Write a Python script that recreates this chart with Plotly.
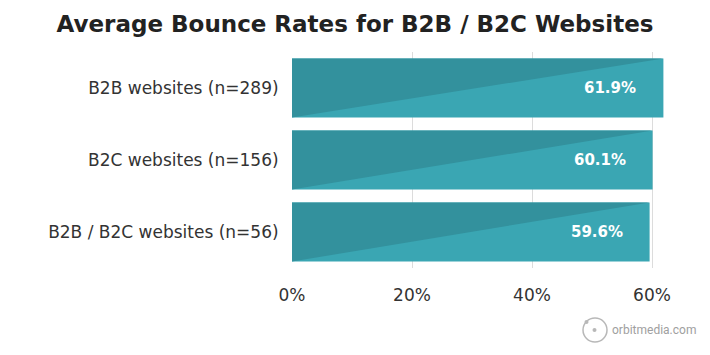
import plotly.graph_objects as go

categories = ["B2B websites (n=289)", "B2C websites (n=156)", "B2B / B2C websites (n=56)"]
values = [61.9, 60.1, 59.6]
labels = ["61.9%", "60.1%", "59.6%"]
x_ticks = [0, 20, 40, 60]
x_tick_labels = ["0%", "20%", "40%", "60%"]

LIGHT = "#3aa6b3"
DARK = "#33919d"
BAR_W = 0.82
FONT = "DejaVu Sans"

# the page body adds an 8px offset, so the figure is laid out in 702x347
W, H = 702, 347
L, R, T, B = 284, 46, 44, 87
PW, PH = W - L - R, H - T - B


def px(x):
    return (x - 8 - L) / PW


def py(y):
    return (H - B - (y - 8)) / PH


fig = go.Figure()
pos = list(range(len(categories)))

fig.add_trace(go.Bar(
    x=values, y=pos, orientation="h", width=BAR_W,
    marker=dict(color=LIGHT, line=dict(width=0)),
    hoverinfo="skip", showlegend=False,
))

# darker upper-left triangle of each bar, derived from the values
for i, v in zip(pos, values):
    top = i - BAR_W / 2
    bot = i + BAR_W / 2
    fig.add_trace(go.Scatter(
        x=[0, 0, v, 0], y=[top, bot, top, top],
        mode="lines", fill="toself", fillcolor=DARK,
        line=dict(width=0), hoverinfo="skip", showlegend=False,
    ))

for i, v, t in zip(pos, values, labels):
    fig.add_annotation(
        x=v, y=i, text="<b>" + t + "</b>", showarrow=False,
        xanchor="right", xshift=-25,
        font=dict(family=FONT, size=15, color="white"),
    )

# watermark
fig.add_shape(type="circle", xref="paper", yref="paper",
              x0=px(583), x1=px(607), y0=py(342), y1=py(318),
              line=dict(color="#b8b8b8", width=1.5), fillcolor="rgba(0,0,0,0)")
fig.add_shape(type="circle", xref="paper", yref="paper",
              x0=px(592.5), x1=px(596.5), y0=py(332), y1=py(328),
              line=dict(width=0), fillcolor="#b8b8b8")
fig.add_shape(type="circle", xref="paper", yref="paper",
              x0=px(584.5), x1=px(588.5), y0=py(324), y1=py(320),
              line=dict(width=0), fillcolor="#b8b8b8")
fig.add_annotation(
    xref="paper", yref="paper", x=px(610), y=py(330),
    xanchor="left", yanchor="middle",
    text="orbitmedia.com", showarrow=False,
    font=dict(family="Roboto", size=12, color="#a0a0a0"),
)

fig.update_layout(
    width=W, height=H,
    margin=dict(l=L, r=R, t=T, b=B, autoexpand=False),
    paper_bgcolor="white", plot_bgcolor="white",
    font=dict(family=FONT, color="#333333"),
    title=dict(text="<b>Average Bounce Rates for B2B / B2C Websites</b>",
               x=(355 - 8) / W, xref="container", xanchor="center",
               y=1 - (24 - 8) / H, yref="container", yanchor="middle",
               font=dict(family=FONT, size=23, color="#222222")),
    xaxis=dict(range=[0, 62], tickvals=x_ticks, ticktext=x_tick_labels,
               showgrid=True, gridcolor="#dcdcdc", gridwidth=1,
               zeroline=False, showline=False,
               tickfont=dict(family=FONT, size=17, color="#333333"),
               ticks="outside", ticklen=12, tickcolor="rgba(0,0,0,0)"),
    yaxis=dict(range=[2.5, -0.5], tickvals=pos, ticktext=categories,
               showgrid=False, zeroline=False, showline=False,
               tickfont=dict(family=FONT, size=17, color="#333333"),
               ticks="outside", ticklen=9, tickcolor="rgba(0,0,0,0)"),
)

fig.write_html("out.html")
